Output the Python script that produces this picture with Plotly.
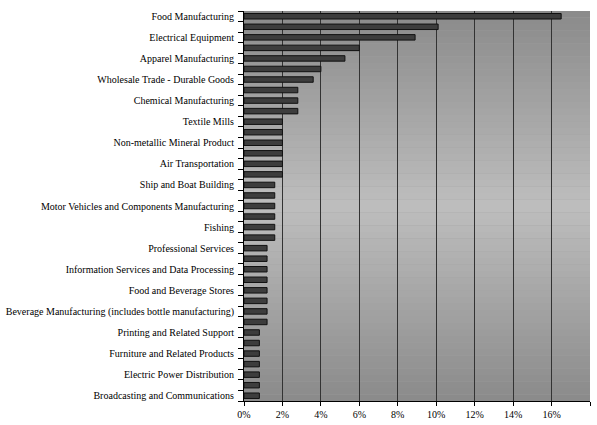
import plotly.graph_objects as go

# Labelled industries (every second bar carries a label, top to bottom)
labels = [
    "Food Manufacturing",
    "Electrical Equipment",
    "Apparel Manufacturing",
    "Wholesale Trade - Durable Goods",
    "Chemical Manufacturing",
    "Textile Mills",
    "Non-metallic Mineral Product",
    "Air Transportation",
    "Ship and Boat Building",
    "Motor Vehicles and Components Manufacturing",
    "Fishing",
    "Professional Services",
    "Information Services and Data Processing",
    "Food and Beverage Stores",
    "Beverage Manufacturing (includes bottle manufacturing)",
    "Printing and Related Support",
    "Furniture and Related Products",
    "Electric Power Distribution",
    "Broadcasting and Communications",
]

# Share of total (%) for each bar, top to bottom
shares = [
    16.5, 10.1, 8.9, 6.0, 5.25, 4.0, 3.6, 2.8, 2.8, 2.8,
    2.0, 2.0, 2.0, 2.0, 2.0, 2.0,
    1.6, 1.6, 1.6, 1.6, 1.6, 1.6,
    1.2, 1.2, 1.2, 1.2, 1.2, 1.2, 1.2, 1.2,
    0.8, 0.8, 0.8, 0.8, 0.8, 0.8, 0.8,
]

x_ticks = list(range(0, 19, 2))

positions = list(range(len(shares)))
label_positions = positions[::2]

fig = go.Figure(
    go.Bar(
        x=shares,
        y=positions,
        orientation="h",
        marker=dict(color="#3d3d3d", line=dict(color="#111111", width=1)),
        hoverinfo="x",
    )
)

# Vertical grey gradient behind the plot: dark at the edges, light in the middle
edge, mid = 138, 190
steps = 60
shapes = []
for k in range(steps):
    t = (k + 0.5) / steps
    v = round(edge + (mid - edge) * (1 - abs(2 * t - 1)))
    shapes.append(
        dict(
            type="rect",
            xref="x domain",
            yref="y domain",
            x0=0,
            x1=1,
            y0=1 - k / steps,
            y1=1 - (k + 1) / steps,
            fillcolor=f"rgb({v},{v},{v})",
            line=dict(width=0),
            layer="below",
        )
    )

serif = "Liberation Serif"
font = dict(family=serif, size=10, color="#000000")

fig.update_layout(
    width=597,
    height=425,
    margin=dict(l=244, r=7, t=11, b=24, autoexpand=False),
    paper_bgcolor="#ffffff",
    plot_bgcolor="#a0a0a0",
    font=font,
    showlegend=False,
    bargap=0.48,
    shapes=shapes,
    xaxis=dict(
        range=[0, 18],
        tickmode="array",
        tickvals=x_ticks,
        ticktext=[f"{v}%" for v in x_ticks],
        tickfont=dict(family=serif, size=10, color="#000000"),
        showgrid=True,
        gridcolor="#333333",
        gridwidth=1,
        showline=True,
        linecolor="#000000",
        linewidth=1,
        ticks="outside",
        ticklen=4,
        tickcolor="#000000",
        zeroline=False,
        fixedrange=True,
    ),
    yaxis=dict(
        range=[len(shares) - 0.5, -0.5],
        tickmode="array",
        tickvals=label_positions,
        ticktext=labels,
        tickfont=dict(family=serif, size=10, color="#000000"),
        ticks="",
        showgrid=False,
        zeroline=False,
        showline=True,
        linecolor="#000000",
        linewidth=1,
        ticklabelstandoff=7,
        minor=dict(
            tickmode="array",
            tickvals=[p - 0.5 for p in positions] + [len(shares) - 0.5],
            ticks="outside",
            ticklen=5,
            tickcolor="#000000",
            showgrid=False,
        ),
        fixedrange=True,
    ),
)

fig.write_html("out.html")
